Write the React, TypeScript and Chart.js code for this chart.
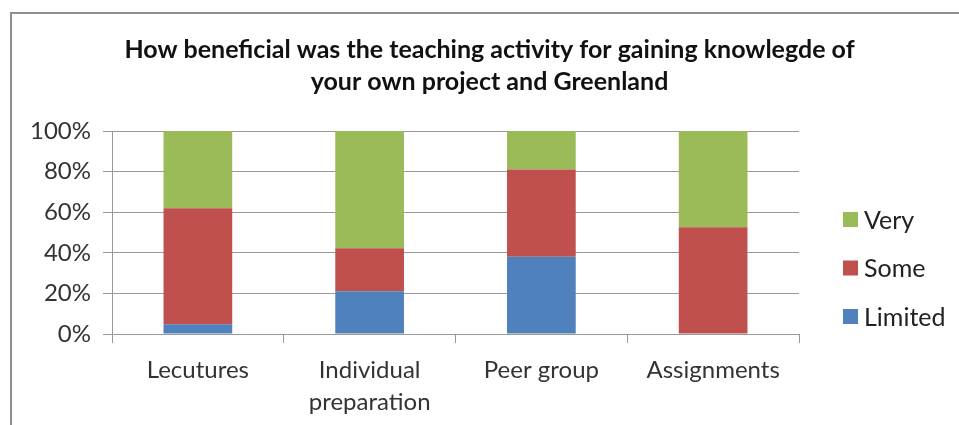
import React, { useEffect, useRef } from "react";
import { Chart, registerables } from "chart.js";

Chart.register(...registerables);

const TITLE_LINES = [
  "How beneficial was the teaching activity for gaining knowlegde of",
  "your own project and Greenland",
];
const CATEGORIES: (string | string[])[] = [
  "Lecutures",
  ["Individual", "preparation"],
  "Peer group",
  "Assignments",
];
const SERIES_NAMES = ["Limited", "Some", "Very"];
const SERIES_COLORS = ["#4F81BD", "#C0504D", "#9BBB59"];
const LIMITED = [4.8, 21.1, 38.1, 0];
const SOME = [57.1, 21.1, 42.9, 52.6];
const VERY = [38.1, 57.8, 19.0, 47.4];
const Y_TICKS = [0, 20, 40, 60, 80, 100];

const FONT = "Lato, Carlito, Calibri, sans-serif";

const sideLegend = {
  id: "sideLegend",
  afterDraw(chart: any) {
    const ctx = chart.ctx;
    const area = chart.chartArea;
    const ds = chart.data.datasets;
    const n = ds.length;
    ctx.save();
    ctx.font = `25px ${FONT}`;
    ctx.textBaseline = "middle";
    ctx.textAlign = "left";
    const x = area.right + 44;
    const mid = (area.top + area.bottom) / 2 + 35.5;
    for (let i = 0; i < n; i++) {
      const idx = n - 1 - i;
      const y = mid + (i - (n - 1) / 2) * 48.5;
      ctx.fillStyle = ds[idx].backgroundColor;
      ctx.fillRect(x, y - 7.5, 15, 15);
      ctx.fillStyle = "#222";
      ctx.fillText(ds[idx].label, x + 21, y + 1);
    }
    ctx.restore();
  },
};

export default function App() {
  const ref = useRef<HTMLCanvasElement | null>(null);

  useEffect(() => {
    if (!ref.current) return;
    const values = [LIMITED, SOME, VERY];
    const chart = new Chart(ref.current, {
      type: "bar",
      data: {
        labels: CATEGORIES,
        datasets: SERIES_NAMES.map((name, i) => ({
          label: name,
          data: values[i],
          backgroundColor: SERIES_COLORS[i],
          borderWidth: 0,
          barPercentage: 0.4,
          categoryPercentage: 1,
        })),
      },
      options: {
        responsive: false,
        animation: false,
        devicePixelRatio: 1,
        layout: { padding: { left: 20, right: 0, top: 0, bottom: 0 } },
        plugins: {
          legend: { display: false },
          tooltip: { enabled: false },
          title: {
            display: true,
            text: TITLE_LINES,
            color: "#111",
            font: { family: FONT, size: 25, weight: "bold", lineHeight: 32 / 25 },
            padding: { top: 34, bottom: 33 },
          },
        },
        scales: {
          x: {
            stacked: true,
            grid: {
              display: true,
              drawOnChartArea: false,
              drawTicks: true,
              tickLength: 9,
              color: "#999",
              offset: true,
            },
            border: { display: true, color: "#999" },
            ticks: {
              color: "#333",
              font: { family: FONT, size: 24, lineHeight: 32 / 24 },
              padding: 11,
              maxRotation: 0,
              autoSkip: false,
            },
            afterFit: (s: any) => {
              s.height = 91;
            },
          },
          y: {
            stacked: true,
            min: 0,
            max: 100,
            afterBuildTicks: (s: any) => {
              s.ticks = Y_TICKS.map((v) => ({ value: v }));
            },
            grid: { color: "#999", tickLength: 9, drawTicks: true },
            border: { display: true, color: "#999" },
            ticks: {
              color: "#333",
              font: { family: FONT, size: 24 },
              padding: 12,
              callback: (v: any) => `${v}%`,
            },
            afterFit: (s: any) => {
              s.width = 92;
            },
          },
          yPad: {
            type: "linear",
            position: "right",
            display: true,
            grid: { display: false },
            border: { display: false },
            ticks: { display: false },
            afterFit: (s: any) => {
              s.width = 160;
            },
          },
        },
      } as any,
      plugins: [sideLegend],
    });
    return () => chart.destroy();
  }, []);

  return (
    <div
      style={{
        position: "fixed",
        left: 0,
        top: 0,
        width: 959,
        height: 425,
        background: "#fff",
        overflow: "hidden",
      }}
    >
      <div
        style={{
          position: "absolute",
          left: 10,
          top: 12,
          width: 1200,
          height: 600,
          borderLeft: "2px solid #8f8f8f",
          borderTop: "2px solid #8f8f8f",
        }}
      />
      <canvas
        ref={ref}
        width={959}
        height={425}
        style={{ position: "absolute", left: 0, top: 0, width: 959, height: 425 }}
      />
    </div>
  );
}
